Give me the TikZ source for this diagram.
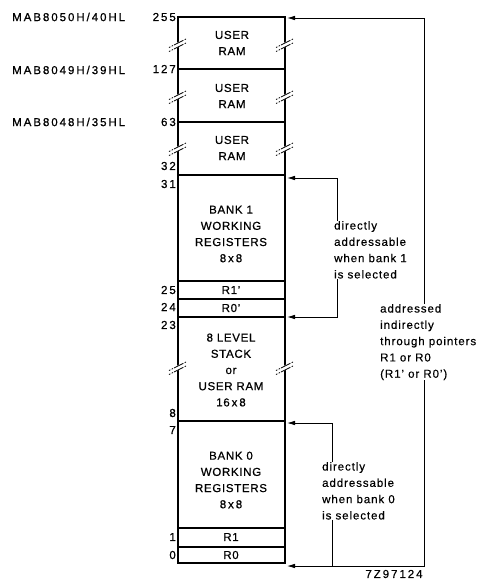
\documentclass[tikz,border=0pt]{standalone}
\usepackage{fontspec}
\setmainfont{Liberation Sans}
\newfontfamily\capsf[LetterSpace=17,FakeBold=0.7]{Liberation Sans}
\newfontfamily\boxf[LetterSpace=6,FakeBold=0.7]{Liberation Sans}
\newfontfamily\smallf[LetterSpace=8,FakeBold=0.4]{Liberation Sans}
\usetikzlibrary{arrows.meta}
\begin{document}
\begin{tikzpicture}[x=1pt,y=-1pt,
 lbl/.style={font=\capsf\fontsize{11.5}{12}\selectfont, inner sep=0},
 num/.style={lbl, anchor=east},
 boxtxt/.style={font=\boxf\fontsize{11.5}{16.2}\selectfont, align=center, inner sep=0},
 note/.style={font=\smallf\fontsize{11.5}{16.3}\selectfont, align=left, anchor=north west, inner sep=0},
 edgeln/.style={line width=1.6pt},
 divln/.style={line width=1.1pt},
 arr/.style={line width=0.8pt, -{Latex[length=8pt,width=4.5pt]}},
 ln/.style={line width=0.8pt},
 brkmark/.pic={
   \fill[white] (-3,1) -- (3,-2.5) -- (3,2.5) -- (-3,6) -- cycle;
   \draw[line width=0.8pt] (-4,2) -- (4,-2) (-4,6) -- (4,2);
   \draw[line width=0.8pt, dash pattern=on 1.5pt off 1.5pt] (-9,4.5) -- (-4,2) (4,-2) -- (9,-4.5)
        (-9,8.5) -- (-4,6) (4,2) -- (9,-0.5);
 }
]
\useasboundingbox (0,0) rectangle (479,579);

% memory map box
\draw[edgeln] (178,17) rectangle (285,563);
\draw[divln] (178,69) -- (285,69);
\draw[divln] (178,122) -- (285,122);
\draw[line width=2pt] (178,175) -- (285,175);
\draw[divln] (178,281) -- (285,281);
\draw[divln] (178,299) -- (285,299);
\draw[line width=1.6pt] (178,317) -- (285,317);
\draw[line width=1.6pt] (178,421) -- (285,421);
\draw[divln] (178,528) -- (285,528);
\draw[divln] (178,547) -- (285,547);

% break marks
\foreach \yy in {43,95,147,366} {
  \pic at (178,\yy) {brkmark};
  \pic at (285,\yy) {brkmark};
}

% device labels
\node[lbl, anchor=west] (d50) at (12,17) {MAB8050H/40HL};
\node[lbl, anchor=west] (d49) at (12,70) {MAB8049H/39HL};
\node[lbl, anchor=west] (d48) at (12,122) {MAB8048H/35HL};

% addresses
\node[num] (a255) at (176,17) {255};
\node[num] (a127) at (176,69) {127};
\node[num] (a63) at (176,122) {63};
\node[num] (a32) at (176,166) {32};
\node[num] (a31) at (176,184) {31};
\node[num] (a25) at (176,290) {25};
\node[num] (a24) at (176,307) {24};
\node[num] (a23) at (176,325) {23};
\node[num] (a8) at (176,413) {8};
\node[num] (a7) at (176,430) {7};
\node[num] (a1) at (176,537) {1};
\node[num] (a0) at (176,555) {0};

% box texts
\node[boxtxt] (u1) at (232,43) {USER\\RAM};
\node[boxtxt] (u2) at (232,96) {USER\\RAM};
\node[boxtxt] (u3) at (232,148) {USER\\RAM};
\node[boxtxt] (b1) at (231,234) {BANK 1\\WORKING\\REGISTERS\\8\,x\,8};
\node[boxtxt] (r1p) at (231,290) {R1’};
\node[boxtxt] (r0p) at (231,308) {R0’};
\node[boxtxt] (stk) at (231,370) {8 LEVEL\\STACK\\or\\USER RAM\\16\,x\,8};
\node[boxtxt] (b0) at (231,480) {BANK 0\\WORKING\\REGISTERS\\8\,x\,8};
\node[boxtxt] (r1) at (231,537) {R1};
\node[boxtxt] (r0) at (231,555) {R0};

% notes
\node[note] (n1) at (334,221) {directly\\addressable\\when bank 1\\is selected};
\node[note] (nind) at (380,304) {addressed\\indirectly\\through pointers\\R1 or R0\\(R1’ or R0’)};
\node[note] (n0) at (322,462) {directly\\addressable\\when bank 0\\is selected};
\node[lbl, anchor=center] (fig) at (394,574) {7Z97124};

% connector points
\coordinate (t255) at (287,18);
\coordinate (tc) at (424,18);
\coordinate (t31) at (287,178);
\coordinate (c31) at (337,178);
\coordinate (t24) at (287,317);
\coordinate (c24) at (337,317);
\coordinate (t7) at (287,423);
\coordinate (c7) at (332,423);
\coordinate (t0) at (287,566);
\coordinate (c0) at (332,566);
\coordinate (bc) at (424,566);

% indirect addressing
\draw[arr] (tc |- nind.north) -- (tc) -- (t255);
\draw[arr] (bc |- nind.south) -- (bc) -- (t0);
% bank 1
\draw[arr] (c31 |- n1.north) -- (c31) -- (t31);
\draw[arr] (c24 |- n1.south) -- (c24) -- (t24);
% bank 0
\draw[arr] (c7 |- n0.north) -- (c7) -- (t7);
\draw[ln] (c0 |- n0.south) -- (c0);
\end{tikzpicture}
\end{document}
